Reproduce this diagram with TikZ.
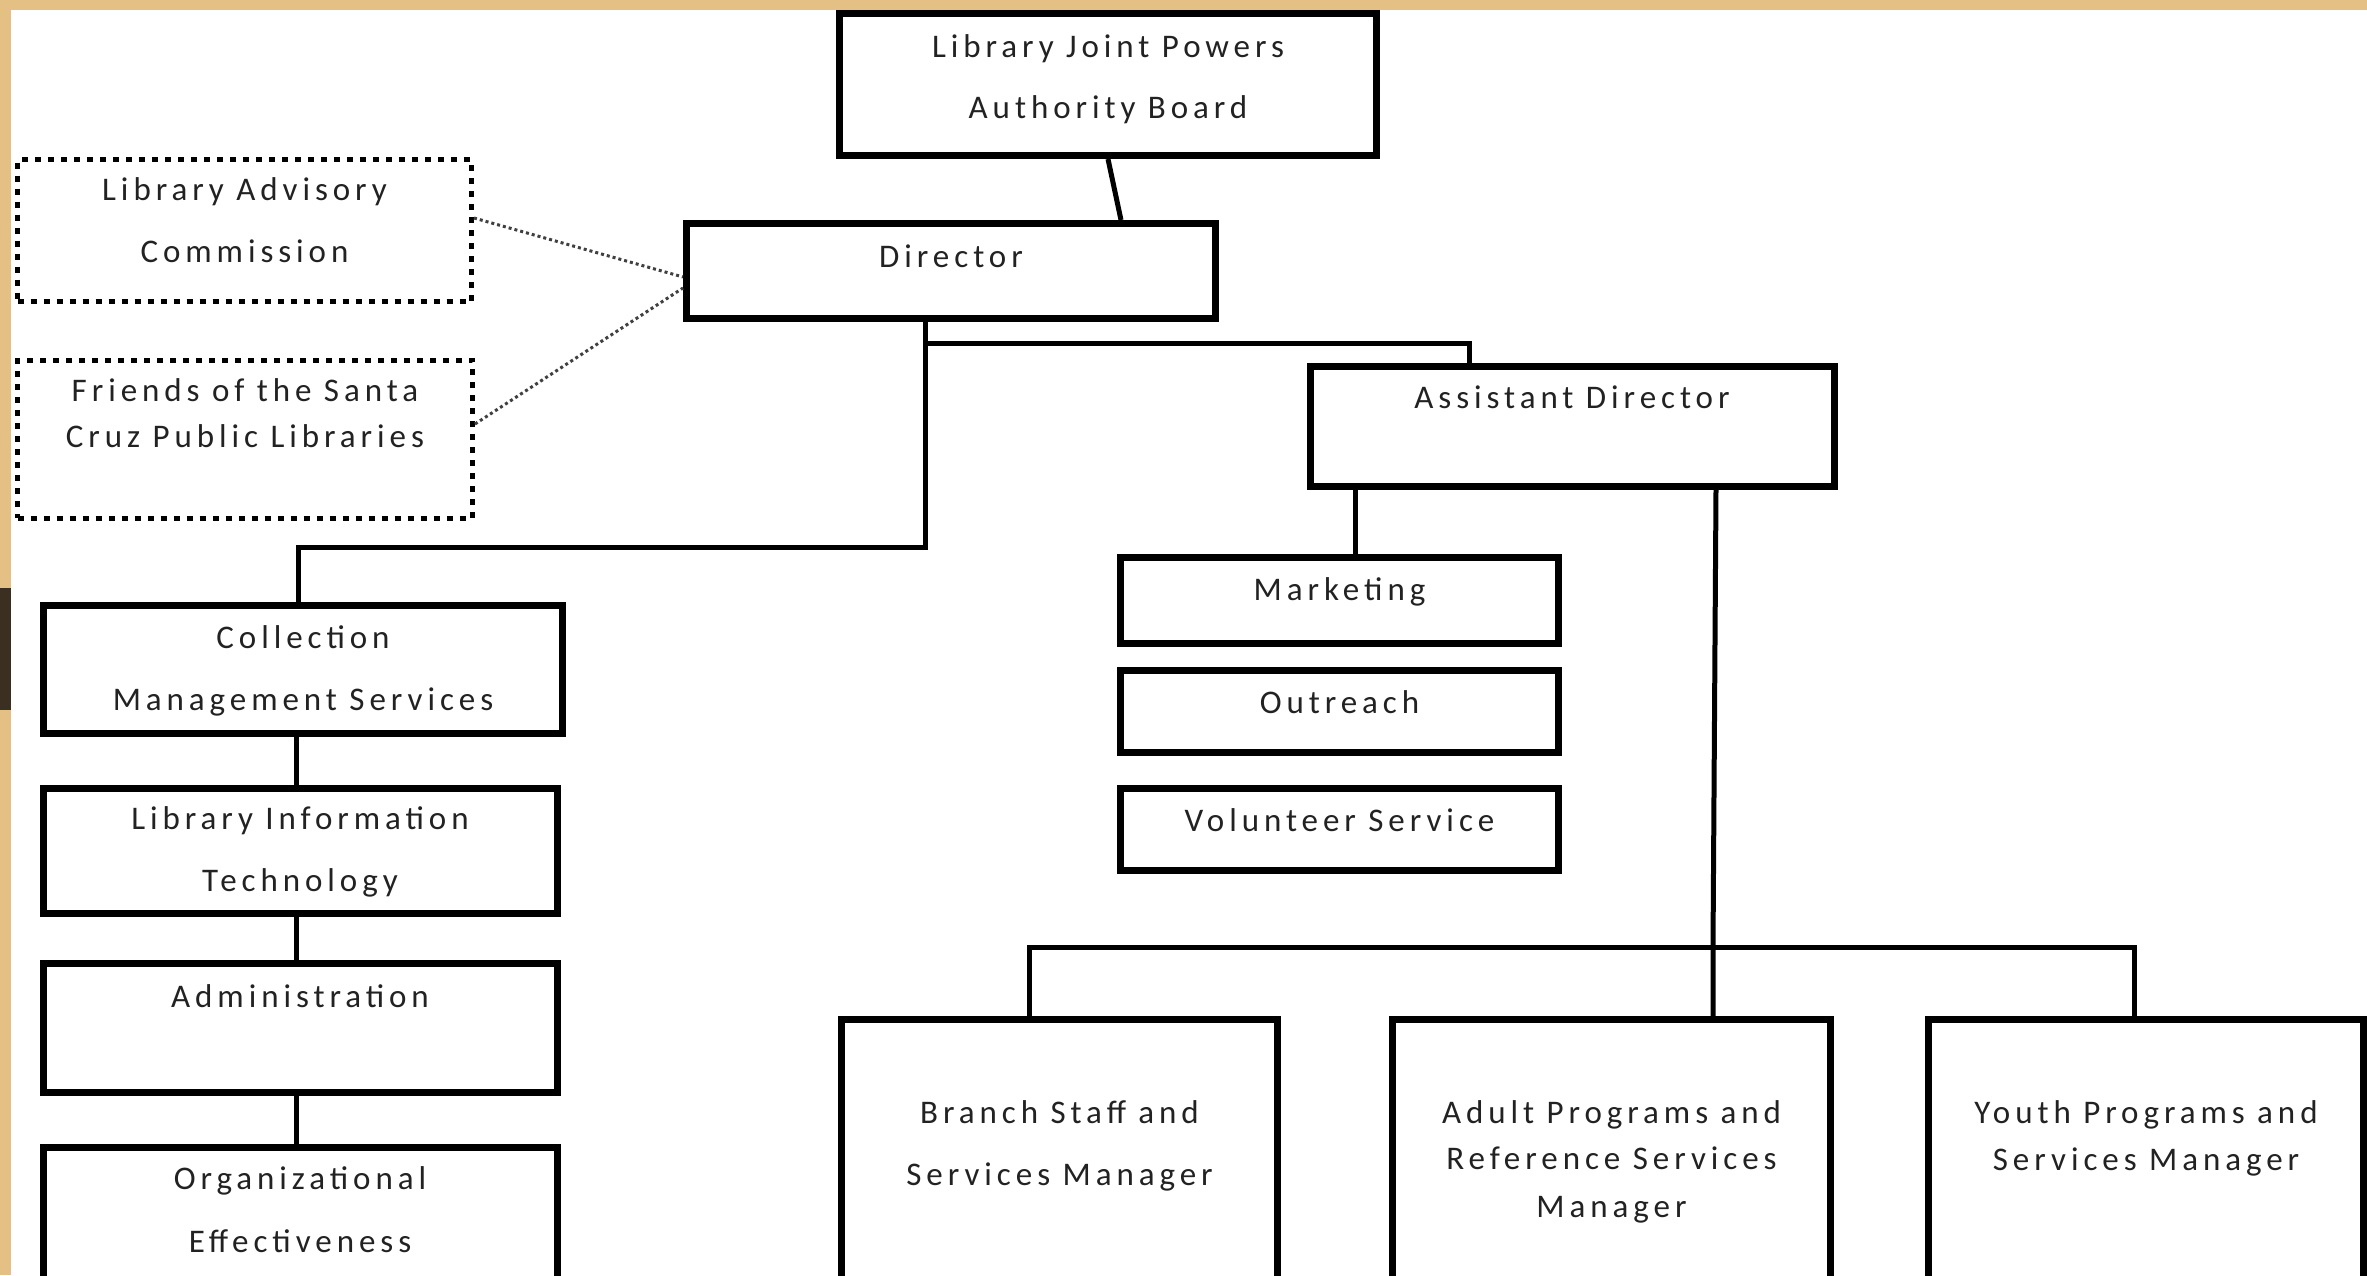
\documentclass[tikz,border=0pt]{standalone}
\usepackage{fontspec}
\newfontfamily\boxfont{Carlito}[LetterSpace=15]
\definecolor{tan}{HTML}{E4C084}
\definecolor{darkbrown}{HTML}{3B2F22}
\definecolor{inktext}{HTML}{222222}
\begin{document}
\begin{tikzpicture}[x=1pt,y=-1pt,
  box/.style={draw=black, line width=7pt, fill=white, inner sep=0pt},
  dotbox/.style={draw=black, line width=5pt, dash pattern=on 6pt off 7pt, fill=white, inner sep=0pt},
  conn/.style={draw=black, line width=5pt},
  dotconn/.style={draw=black!75, line width=3pt, dash pattern=on 3pt off 3pt},
  txt/.style={anchor=base, inner sep=0pt, text=inktext, font=\boxfont\fontsize{33}{40}\selectfont}]
\useasboundingbox (0,0) rectangle (2367,1275);
\clip (0,0) rectangle (2367,1275);
% background
\fill[tan] (0,0) rectangle (2367,1275);
\fill[white] (11,10) rectangle (2367,1275);
\fill[darkbrown] (0,588) rectangle (11,710);

% boxes
\node[box, minimum width=537pt, minimum height=142pt] (board) at (1108,84.5) {};
\node[box, minimum width=529pt, minimum height=95pt] (director) at (951,271) {};
\node[dotbox, minimum width=454pt, minimum height=142pt] (advisory) at (244.5,230.5) {};
\node[dotbox, minimum width=455pt, minimum height=158pt] (friends) at (245,439) {};
\node[box, minimum width=524pt, minimum height=120pt] (asst) at (1572,426) {};
\node[box, minimum width=438pt, minimum height=86pt] (marketing) at (1339.5,600.5) {};
\node[box, minimum width=438pt, minimum height=82pt] (outreach) at (1339.5,711.5) {};
\node[box, minimum width=438pt, minimum height=82pt] (volunteer) at (1339.5,829.5) {};
\node[box, minimum width=519pt, minimum height=128pt] (collection) at (303,669.5) {};
\node[box, minimum width=513.5pt, minimum height=125pt] (lit) at (300.25,851) {};
\node[box, minimum width=513.5pt, minimum height=129pt] (admin) at (300.25,1028) {};
\node[box, minimum width=513.5pt, minimum height=172.5pt] (orgeff) at (300.25,1233.75) {};
\node[box, minimum width=436pt, minimum height=300.5pt] (branch) at (1059.5,1169.75) {};
\node[box, minimum width=438pt, minimum height=300.5pt] (adult) at (1611.5,1169.75) {};
\node[box, minimum width=435pt, minimum height=300.5pt] (youth) at (2146,1169.75) {};

% junction coordinates
\coordinate (jd) at (925,547);
\coordinate (ja) at (925,343);
\coordinate (jam) at (1355,500);
\coordinate (jat) at (1716,500);
\coordinate (jb) at (1713,947);
\coordinate (jl) at (1029,947);
\coordinate (jr) at (2134.5,947);
\coordinate (jc) at (296,0);
\coordinate (jcol) at (298,547);

% connectors
\draw[conn] (board.south) -- ([xshift=170pt]director.north);
\draw[dotconn] ([yshift=12.5pt]advisory.east) -- ([yshift=-6pt]director.west);
\draw[dotconn] ([yshift=15pt]friends.east) -- ([yshift=-17pt]director.west);
\draw[conn] (director.south -| jd) -- (jd) -- (jcol) -- (collection.north -| jcol);
\draw[conn] (ja) -| ([xshift=-103pt]asst.north);
\draw[conn] (asst.south -| jam) -- (marketing.north -| jam);
\draw[conn] (asst.south -| jat) -- (jb) -- (adult.north -| jb);
\draw[conn] (branch.north -| jl) -- (jl) -- (jr) -- (youth.north -| jr);
\draw[conn] (collection.south -| jc) -- (lit.north -| jc);
\draw[conn] (lit.south -| jc) -- (admin.north -| jc);
\draw[conn] (admin.south -| jc) -- (orgeff.north -| jc);

% texts
\node[txt] (t1a) at (1108,57) {Library Joint Powers};
\node[txt] (t1b) at (1108,118) {Authority Board};
\node[txt] (t2) at (951,267) {Director};
\node[txt] (t3a) at (244.5,200) {Library Advisory};
\node[txt] (t3b) at (244.5,262) {Commission};
\node[txt] (t4a) at (245,401) {Friends of the Santa};
\node[txt] (t4b) at (245,447) {Cruz Public Libraries};
\node[txt] (t5) at (1572,408) {Assistant Director};
\node[txt] (t6) at (1339.5,600) {Marketing};
\node[txt] (t7) at (1339.5,713) {Outreach};
\node[txt] (t8) at (1339.5,831) {Volunteer Service};
\node[txt] (t9a) at (303,648) {Collection};
\node[txt] (t9b) at (303,710) {Management Services};
\node[txt] (t10a) at (300,829) {Library Information};
\node[txt] (t10b) at (300,891) {Technology};
\node[txt] (t11) at (300,1007) {Administration};
\node[txt] (t12a) at (300,1189) {Organizational};
\node[txt] (t12b) at (300,1252) {Effectiveness};
\node[txt] (t13a) at (1059.5,1123) {Branch Staff and};
\node[txt] (t13b) at (1059.5,1185) {Services Manager};
\node[txt] (t14a) at (1611.5,1123) {Adult Programs and};
\node[txt] (t14b) at (1611.5,1169) {Reference Services};
\node[txt] (t14c) at (1611.5,1217) {Manager};
\node[txt] (t15a) at (2146,1123) {Youth Programs and};
\node[txt] (t15b) at (2146,1170) {Services Manager};
\end{tikzpicture}
\end{document}
